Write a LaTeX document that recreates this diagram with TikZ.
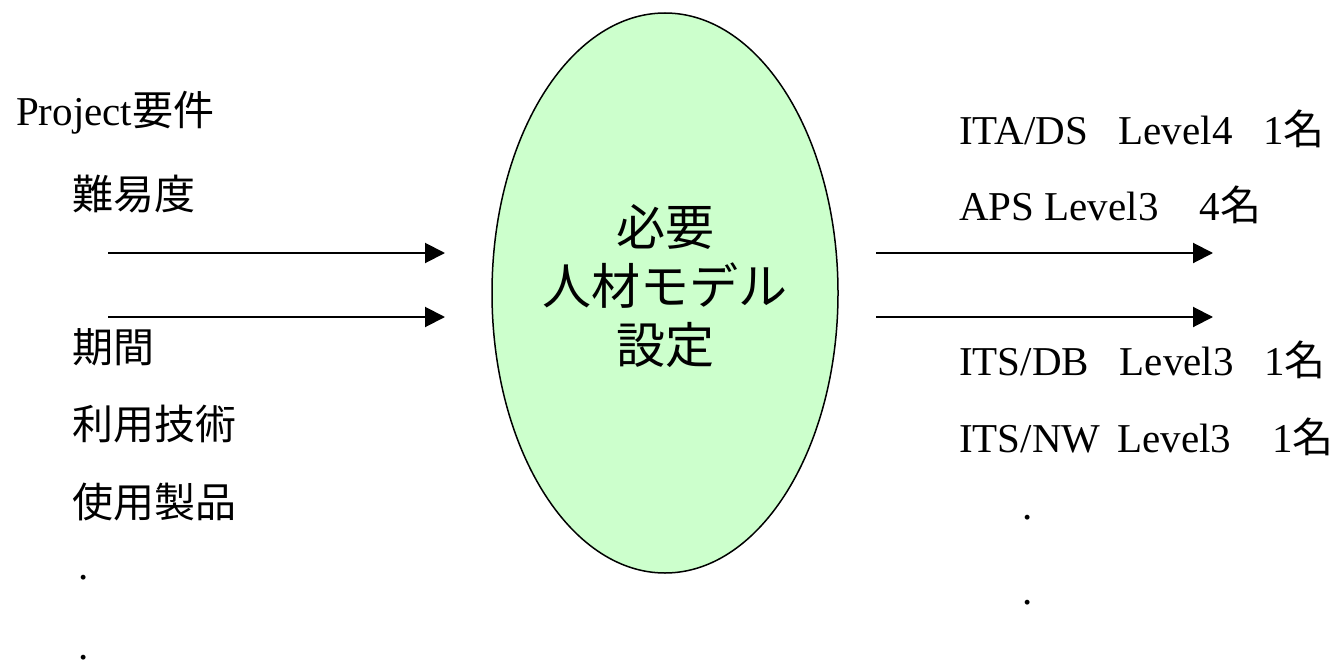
\documentclass[tikz,border=0pt]{standalone}
\usepackage{fontspec}
\setmainfont{Liberation Serif}
\newfontfamily\jp{Noto Sans CJK JP}
\usetikzlibrary{arrows.meta,shapes.geometric}
\definecolor{ovalgreen}{HTML}{CCFFCC}
\begin{document}
\begin{tikzpicture}[x=1pt,y=-1pt,
  txt/.style={anchor=base west,inner sep=0pt,font=\fontsize{41}{49}\selectfont},
  dotmark/.style={txt,text depth=0pt,text height=6pt},
  flow/.style={line width=2pt,-{Triangle[length=20pt,width=20pt]}},
  oval/.style={ellipse,draw=black,line width=1.5pt,fill=ovalgreen,minimum width=346pt,minimum height=560pt,inner sep=0pt},
  ovaltext/.style={align=center,inner sep=0pt,font=\jp\fontsize{49}{59}\selectfont}]
\useasboundingbox (0,0) rectangle (1341,669);

% central oval
\node[oval] (model) at (665,293) {};
\node[ovaltext] (modeltext) at (665,286) {必要\\人材モデル\\設定};

% left column
\node[txt] (proj) at (16,125) {Project{\jp 要件}};
\node[txt] (nan) at (72,209) {\jp 難易度};
\node[txt] (kikan) at (72,362) {\jp 期間};
\node[txt] (riyou) at (72,439) {\jp 利用技術};
\node[txt] (shiyou) at (72,517) {\jp 使用製品};
\node[dotmark] (ldota) at (78,579) {.};
\node[dotmark] (ldotb) at (78,659) {.};

% right column
\node[txt] (ita) at (959,144) {ITA/DS\ \ \ Level4\ \ \ 1{\jp 名}};
\node[txt] (aps) at (959,220) {APS Level3{\jp 　}4{\jp 名}};
\node[txt] (itsdb) at (959,375) {ITS/DB\ \ \ Level3\ \ \ 1{\jp 名}};
\node[txt] (itsnw) at (959,452) {ITS/NW\hspace{17pt}Level3{\jp 　}1{\jp 名}};
\node[dotmark] (rdota) at (1022,519) {.};
\node[dotmark] (rdotb) at (1022,604) {.};

% arrows
\coordinate (lina) at (108,253);
\coordinate (linaend) at (445,253);
\coordinate (linb) at (108,317);
\coordinate (linbend) at (445,317);
\coordinate (routa) at (876,253);
\coordinate (routaend) at (1213,253);
\coordinate (routb) at (876,317);
\coordinate (routbend) at (1213,317);
\draw[flow] (lina) -- (linaend);
\draw[flow] (linb) -- (linbend);
\draw[flow] (routa) -- (routaend);
\draw[flow] (routb) -- (routbend);
\end{tikzpicture}
\end{document}
